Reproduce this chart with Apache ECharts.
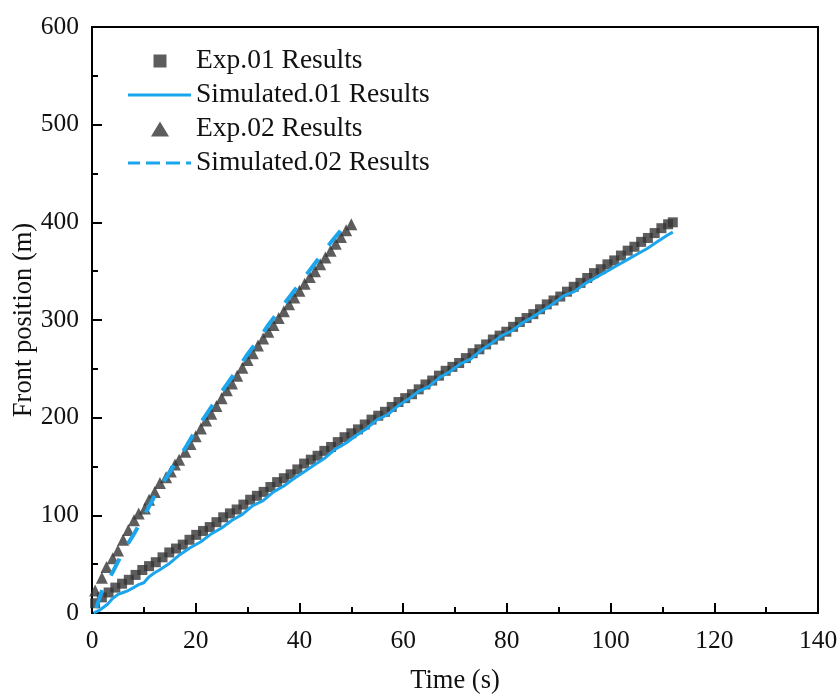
<!DOCTYPE html>
<html>
<head>
<meta charset="utf-8">
<script src="https://cdn.jsdelivr.net/npm/echarts@6/dist/echarts.min.js"></script>
<style>
  html, body { margin: 0; padding: 0; background: #fff; }
  #chart { width: 837px; height: 695px; }
</style>
</head>
<body>
<div id="chart"></div>
<script>
// Front propagation: measured vs. simulated positions over time
const exp01Time = [0.6, 1.9, 3.2, 4.5, 5.8, 7.1, 8.4, 9.7, 11.0, 12.3, 13.6, 14.9, 16.2, 17.5, 18.8,
  20.1, 21.4, 22.7, 24.0, 25.3, 26.6, 27.9, 29.2, 30.5, 31.8, 33.1, 34.4, 35.7, 37.0, 38.3,
  39.6, 40.9, 42.2, 43.5, 44.8, 46.1, 47.4, 48.7, 50.0, 51.3, 52.6, 53.9, 55.2, 56.5, 57.8,
  59.1, 60.4, 61.7, 63.0, 64.3, 65.6, 66.9, 68.2, 69.5, 70.8, 72.1, 73.4, 74.7, 76.0, 77.3,
  78.6, 79.9, 81.2, 82.5, 83.8, 85.1, 86.4, 87.7, 89.0, 90.3, 91.6, 92.9, 94.2, 95.5, 96.8,
  98.1, 99.4, 100.7, 102.0, 103.3, 104.6, 105.9, 107.2, 108.5, 109.8, 111.1, 112.0];
const exp01Pos = [10, 16, 21, 26, 30, 34, 39, 44, 48, 52, 57, 62, 66, 70, 75,
  80, 84, 88, 93, 98, 102, 106, 111, 116, 120, 124, 129, 134, 138, 142,
  147, 153, 157, 161, 166, 170, 175, 180, 184, 188, 193, 198, 202, 206, 211,
  216, 220, 224, 229, 234, 238, 243, 248, 252, 256, 261, 266, 270, 275, 280,
  284, 288, 293, 298, 302, 306, 311, 316, 320, 324, 329, 334, 338, 343, 348,
  352, 357, 361, 366, 371, 375, 380, 384, 389, 394, 398, 400];

const sim01Time = [0.3, 1.5, 3, 4, 5, 6, 7, 8, 9, 10, 11, 12, 13, 15, 17, 19, 21, 23, 25, 27, 29, 31, 33, 35, 37,
  39, 41, 43, 45, 47, 49, 51, 53, 55, 57, 59, 61, 63, 65, 67, 69, 71, 73, 75, 77,
  79, 81, 83, 85, 87, 89, 91, 93, 95, 97, 99, 101, 103, 105, 107, 109, 111, 112];
const sim01Pos = [0, 3, 9, 15, 19, 21, 23, 26, 29, 31, 37, 41, 44, 51, 60, 67, 73, 81, 87, 95, 101, 110, 115, 124, 130,
  138, 145, 152, 159, 168, 174, 182, 189, 198, 203, 212, 219, 227, 232, 241, 247, 255, 260, 269, 276,
  284, 289, 297, 303, 310, 317, 325, 329, 337, 343, 349, 355, 361, 367, 373, 380, 387, 390];

const exp02Time = [0.6, 1.9, 2.8, 4.0, 5.0, 6.0, 7.0, 8.1, 9.0, 10.2, 11.0, 12.1, 13.1, 14.3, 15.2,
  16.0, 16.8, 18.0, 19, 20, 21, 22, 23, 24, 25, 26, 27, 28, 29, 30, 31, 32, 33, 34, 35,
  36, 37, 38, 39, 40, 41, 42, 43, 44, 45, 46, 47, 48, 49, 50];
const exp02Pos = [23, 36, 47, 56, 64, 75, 85, 95, 102, 107, 116, 124, 133, 139, 145,
  152, 157, 165, 173, 181, 189, 197, 204, 212, 220, 228, 235, 243, 251, 259, 266, 274, 281, 288, 295,
  302, 309, 316, 323, 330, 337, 344, 350, 357, 364, 371, 378, 385, 392, 398];

const sim02Time = [0.8, 2, 3, 4, 6, 8, 10, 12, 14, 16, 18, 20, 22, 24, 26, 28, 30, 32, 34, 36, 38, 40, 42, 44, 46, 48];
const sim02Pos = [5, 24, 33, 42, 63, 80, 99, 119, 136, 153, 169, 187, 203, 219, 234, 249, 265, 279, 295, 309, 323, 337, 351, 365, 379, 392];

const xTicks = [0, 20, 40, 60, 80, 100, 120, 140];
const yTicks = [0, 100, 200, 300, 400, 500, 600];

const seriesNames = ['Exp.01 Results', 'Simulated.01 Results', 'Exp.02 Results', 'Simulated.02 Results'];

const serif = '"Liberation Serif", "Times New Roman", serif';
const dark = '#343434';
const blue = '#1aa5ec';

// Legend glyphs drawn inside a 63 x 15 box (the leading moves pin the box size)
const BOX = 'M0,0 M63,15 ';
const legendIcons = {
  square: 'path://' + BOX + 'M25.5,1 L38.5,1 L38.5,14 L25.5,14 Z',
  solid: 'path://' + BOX + 'M0,6 L63,6 L63,9 L0,9 Z',
  triangle: 'path://' + BOX + 'M32,0 L41,15 L23,15 Z',
  dashed: 'path://' + BOX +
    'M0,6 L12,6 L12,9 L0,9 Z M18,6 L32,6 L32,9 L18,9 Z M38,6 L52,6 L52,9 L38,9 Z M58,6 L63,6 L63,9 L58,9 Z'
};

function pairs(xs, ys) {
  return xs.map((x, i) => [x, ys[i]]);
}

const chart = echarts.init(document.getElementById('chart'), null, { renderer: 'canvas' });

const axisCommon = {
  axisLine: { show: true, onZero: false, lineStyle: { color: '#000', width: 2 } },
  axisTick: { show: true, inside: true, length: 10, lineStyle: { color: '#000', width: 2 } },
  minorTick: { show: true, splitNumber: 2, length: 6, lineStyle: { color: '#000', width: 2 } },
  splitLine: { show: false },
  axisLabel: { color: '#111', fontFamily: serif, fontSize: 25.5 },
  nameTextStyle: { color: '#111', fontFamily: serif, fontSize: 26.5 },
  nameMoveOverlap: false
};

chart.setOption({
  animation: false,
  backgroundColor: '#fff',
  grid: {
    left: 92, right: 19, top: 27, bottom: 82,
    outerBoundsMode: 'none',
    containLabel: false,
    show: true, borderColor: '#000', borderWidth: 2, backgroundColor: 'transparent'
  },
  xAxis: Object.assign({}, axisCommon, {
    type: 'value',
    min: xTicks[0], max: xTicks[xTicks.length - 1], interval: 20,
    name: 'Time (s)', nameLocation: 'middle', nameGap: 55,
    axisLabel: Object.assign({}, axisCommon.axisLabel, { margin: 15 })
  }),
  yAxis: Object.assign({}, axisCommon, {
    type: 'value',
    min: yTicks[0], max: yTicks[yTicks.length - 1], interval: 100,
    name: 'Front position (m)', nameLocation: 'middle', nameGap: 54,
    axisLabel: Object.assign({}, axisCommon.axisLabel, { margin: 13 })
  }),
  legend: {
    orient: 'vertical',
    left: 123, top: 42,
    itemWidth: 63, itemHeight: 15, itemGap: 6,
    symbolKeepAspect: false,
    textStyle: { color: '#111', fontFamily: serif, fontSize: 27.5, lineHeight: 26 },
    data: [
      { name: seriesNames[0], icon: legendIcons.square, itemStyle: { color: dark, borderWidth: 0 } },
      { name: seriesNames[1], icon: legendIcons.solid, itemStyle: { color: blue, borderWidth: 0 } },
      { name: seriesNames[2], icon: legendIcons.triangle, itemStyle: { color: dark, borderWidth: 0 } },
      { name: seriesNames[3], icon: legendIcons.dashed, itemStyle: { color: blue, borderWidth: 0 } }
    ]
  },
  series: [
    {
      name: seriesNames[0], type: 'scatter',
      symbol: 'rect', symbolSize: 10,
      itemStyle: { color: dark },
      data: pairs(exp01Time, exp01Pos)
    },
    {
      name: seriesNames[1], type: 'line',
      showSymbol: false, symbol: 'none',
      lineStyle: { color: blue, width: 3 },
      itemStyle: { color: blue },
      data: pairs(sim01Time, sim01Pos)
    },
    {
      name: seriesNames[2], type: 'scatter',
      symbol: 'triangle', symbolSize: 12,
      itemStyle: { color: dark },
      data: pairs(exp02Time, exp02Pos)
    },
    {
      name: seriesNames[3], type: 'line',
      showSymbol: false, symbol: 'none',
      lineStyle: { color: blue, width: 4, type: [19, 17] },
      itemStyle: { color: blue },
      data: pairs(sim02Time, sim02Pos)
    }
  ]
});
</script>
</body>
</html>
